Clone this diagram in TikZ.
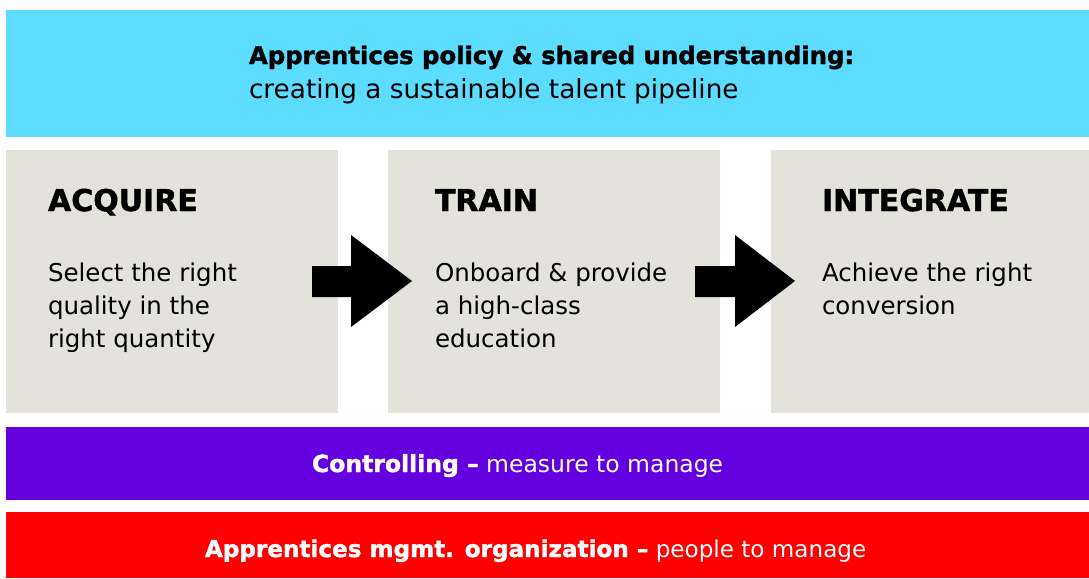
\documentclass[tikz,border=0pt]{standalone}
\usepackage{fontspec}
\setmainfont{DejaVu Sans}[BoldFeatures={FakeBold=1.5}]
\definecolor{skyc}{HTML}{5CDCFF}
\definecolor{stonec}{HTML}{E3E3DC}
\definecolor{violetc}{HTML}{6400E0}
\definecolor{redc}{HTML}{FF0000}
\begin{document}
\begin{tikzpicture}[x=1pt,y=-1pt,
  panel/.style={anchor=north west, inner sep=0pt, outer sep=0pt, draw=none},
  txt/.style={anchor=base west, inner sep=0pt, outer sep=0pt},
  headtxt/.style={txt, font=\fontsize{30}{36}\selectfont\bfseries},
  bodytxt/.style={txt, font=\fontsize{24.5}{33}\selectfont},
  bartxt/.style={txt, text=white, font=\fontsize{23.5}{28}\selectfont},
  blockarrow/.style={fill=black, draw=none}]
\useasboundingbox[fill=white] (0,0) rectangle (1089,578);
% panels
\node[panel, fill=skyc, minimum width=1083pt, minimum height=127pt] (policy) at (6,10) {};
\node[panel, fill=stonec, minimum width=332pt, minimum height=263pt] (acquire) at (6,150) {};
\node[panel, fill=stonec, minimum width=332pt, minimum height=263pt] (train) at (388,150) {};
\node[panel, fill=stonec, minimum width=318pt, minimum height=263pt] (integrate) at (771,150) {};
\node[panel, fill=violetc, minimum width=1083pt, minimum height=73pt] (controlling) at (6,427) {};
\node[panel, fill=redc, minimum width=1083pt, minimum height=66pt] (mgmt) at (6,512) {};
% arrows
\fill[blockarrow] (312,266) -- (351,266) -- (351,235) -- (412,281) -- (351,327) -- (351,297) -- (312,297) -- cycle;
\fill[blockarrow] (695,266) -- (735,266) -- (735,235) -- (795,281) -- (735,327) -- (735,297) -- (695,297) -- cycle;
% texts
\node[txt, font=\fontsize{24.3}{29}\selectfont\bfseries] (policyhead) at (249,64) {Apprentices policy \& shared understanding:};
\node[txt, font=\fontsize{26.3}{31}\selectfont] (policysub) at (249,99) {creating a sustainable talent pipeline};
\node[headtxt] (acqhead) at (48,211) {ACQUIRE};
\node[headtxt] (trainhead) at (435,211) {TRAIN};
\node[headtxt] (inthead) at (822,211) {INTEGRATE};
\node[bodytxt] (acqbody) at (48,281) {\parbox[t]{285pt}{\raggedright Select the right\\quality in the\\right quantity}};
\node[bodytxt] (trainbody) at (435,281) {\parbox[t]{285pt}{\raggedright Onboard \& provide\\a high-class\\education}};
\node[bodytxt] (intbody) at (822,281) {\parbox[t]{265pt}{\raggedright Achieve the right\\conversion}};
\node[bartxt] (ctrltxt) at (312,472) {\textbf{Controlling –} measure to manage};
\node[bartxt, font=\fontsize{23.1}{28}\selectfont] (mgmttxt) at (205,557) {\textbf{Apprentices mgmt. organization –} people to manage};
\end{tikzpicture}
\end{document}
